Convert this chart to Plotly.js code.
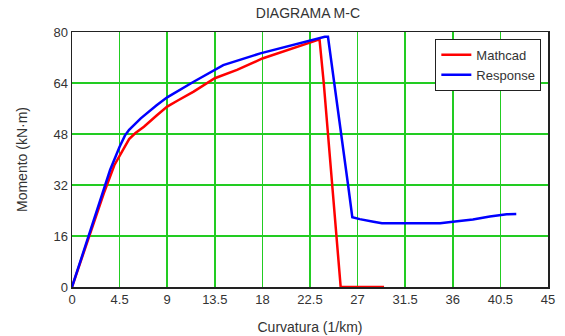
<!DOCTYPE html>
<html>
<head>
<meta charset="utf-8">
<script src="https://cdn.plot.ly/plotly-3.0.1.min.js"></script>
<style>html,body{margin:0;padding:0;background:#fff;}#chart{width:565px;height:336px;}</style>
</head>
<body>
<div id="chart"></div>
<script>
var mathcadX = [0, 1, 2, 3, 4, 4.5, 5.0, 5.4, 6.0, 6.8, 8.0, 9.0, 10.0, 11.5, 13.5, 15.6, 18.0, 20.9, 23.4, 23.8, 24.2, 24.6, 25.0, 25.4, 29.5];
var mathcadY = [0, 9.8, 19.6, 29.3, 38.2, 41.2, 44.3, 46.4, 48.3, 50.3, 53.8, 56.6, 58.5, 61.3, 65.5, 68.1, 71.7, 74.9, 77.7, 64, 48, 32, 16, 0, 0];
var responseX = [0, 1, 2, 3, 3.6, 4.5, 5.0, 5.4, 6.5, 8.0, 9.0, 11.5, 14.3, 17.8, 20.9, 23.9, 24.2, 24.8, 25.5, 26.1, 26.5, 27.2, 28.5, 29.3, 31.6, 34.8, 36.0, 37.9, 39.5, 41.1, 42.0];
var responseY = [0, 10.2, 20.4, 30.6, 36.7, 44, 47.5, 49.3, 52.9, 57.0, 59.5, 64.4, 69.6, 73.3, 75.9, 78.5, 78.5, 64, 48, 32, 21.9, 21.3, 20.5, 20.0, 20.0, 20.0, 20.5, 21.2, 22.1, 22.8, 22.9];
var xTicks = [0, 4.5, 9, 13.5, 18, 22.5, 27, 31.5, 36, 40.5, 45];
var xTickText = ['0', '4.5', '9', '13.5', '18', '22.5', '27', '31.5', '36', '40.5', '45'];
var yTicks = [0, 16, 32, 48, 64, 80];

var traces = [
  {x: mathcadX, y: mathcadY, name: 'Mathcad', mode: 'lines', line: {color: '#ff0000', width: 2.5}},
  {x: responseX, y: responseY, name: 'Response', mode: 'lines', line: {color: '#0000ff', width: 2.5}}
];
var fam = 'Liberation Sans, Arial, sans-serif';
var layout = {
  width: 565, height: 336,
  margin: {l: 72, r: 17, t: 32, b: 49},
  paper_bgcolor: '#fff', plot_bgcolor: '#fff',
  font: {family: fam, size: 13, color: '#333'},
  showlegend: true,
  title: {text: 'DIAGRAMA M-C', font: {family: fam, size: 14, color: '#333'}, x: 0.545, xanchor: 'center', y: 0.96, yanchor: 'middle'},
  xaxis: {
    range: [0, 45], tickvals: xTicks, ticktext: xTickText, ticks: '',
    showgrid: true, gridcolor: '#22cc22', gridwidth: 1.5,
    showline: true, linecolor: '#222', linewidth: 1.5, mirror: true,
    zeroline: false, tickfont: {size: 13, color: '#333'},
    title: {text: 'Curvatura (1/km)', font: {size: 14, color: '#333'}, standoff: 16}
  },
  yaxis: {
    range: [0, 80], tickvals: yTicks, ticks: '',
    showgrid: true, gridcolor: '#22cc22', gridwidth: 1.5,
    showline: true, linecolor: '#222', linewidth: 1.5, mirror: true,
    zeroline: false, tickfont: {size: 13, color: '#333'},
    title: {text: 'Momento (kN·m)', font: {size: 14, color: '#333'}, standoff: 22}
  },
  legend: {
    x: 0.986, y: 0.973, xanchor: 'right', yanchor: 'top',
    bgcolor: '#fff', bordercolor: '#222', borderwidth: 1,
    font: {size: 13, color: '#333'}, tracegroupgap: 0
  }
};
Plotly.newPlot('chart', traces, layout, {staticPlot: true, displayModeBar: false});
</script>
</body>
</html>
